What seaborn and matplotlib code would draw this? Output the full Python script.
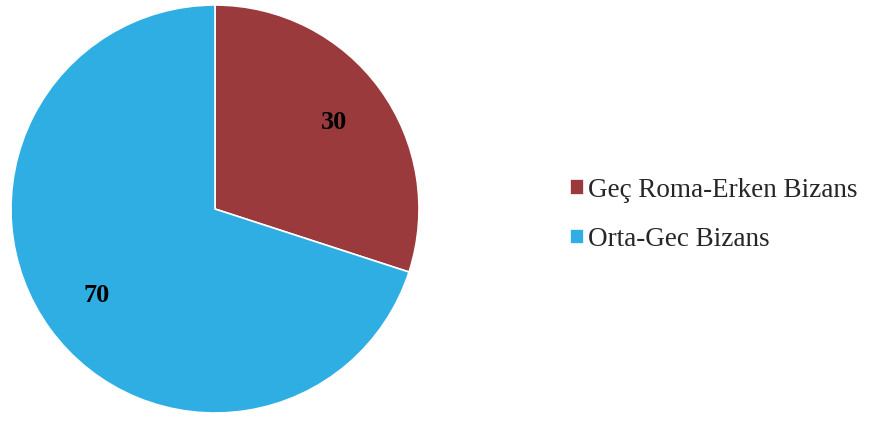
import matplotlib
matplotlib.use('Agg')
import matplotlib.pyplot as plt
import seaborn as sns

# Period shares (%)
labels = ['Geç Roma-Erken Bizans', 'Orta-Gec Bizans']
values = [30, 70]
colors = ['#9B3A3C', '#2EAEE3']

sns.set_style('white')
plt.rcParams['font.family'] = ['Liberation Serif', 'DejaVu Serif']

fig = plt.figure(figsize=(8.78, 4.21), dpi=100)
W, H = 878, 421
cx, cy, r = 215, 209, 204
ax = fig.add_axes([(cx - r) / W, (H - cy - r) / H, 2 * r / W, 2 * r / H])

wedges, texts = ax.pie(
    values, colors=colors, startangle=90, counterclock=False,
    labels=[str(v) for v in values], labeldistance=0.72,
    wedgeprops=dict(edgecolor='white', linewidth=1.2),
    textprops=dict(fontsize=19, fontweight='bold', color='black'),
)
for t in texts:
    t.set_ha('center')
    t.set_va('center')
ax.set_xlim(-1, 1)
ax.set_ylim(-1, 1)
ax.set_aspect('equal')

fig.legend(
    wedges, labels, loc='center left', bbox_to_anchor=(570 / W, 1 - 215 / H),
    frameon=False, fontsize=19.5, handlelength=0.5, handleheight=0.5,
    handletextpad=0.15, labelspacing=0.9, borderaxespad=0, borderpad=0,
)

fig.savefig('out.png', dpi=100)
